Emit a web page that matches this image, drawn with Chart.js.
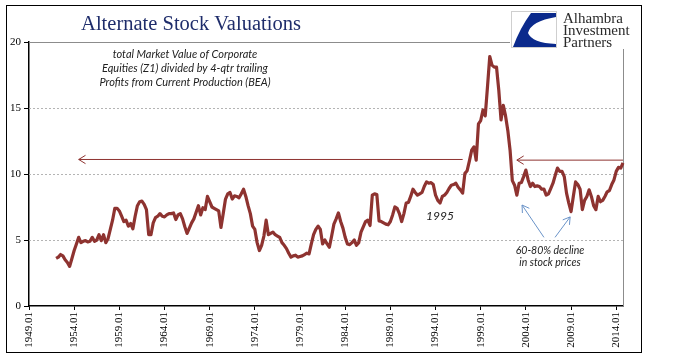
<!DOCTYPE html>
<html>
<head>
<meta charset="utf-8">
<script src="https://cdn.jsdelivr.net/npm/chart.js@4.4.1/dist/chart.umd.min.js"></script>
<style>
  html, body { margin: 0; padding: 0; background: #fff; }
  #wrap { position: relative; width: 675px; height: 358px; }
</style>
</head>
<body>
<div id="wrap"><canvas id="valChart" width="675" height="358"></canvas></div>
<script>
// Categories: quarters 1949.01 .. 2014.04
const startYear = 1949;
const endYear = 2014;
const quarterCodes = ['01', '02', '03', '04'];
const tickLabels = ['1949.01', '1954.01', '1959.01', '1964.01', '1969.01', '1974.01', '1979.01',
  '1984.01', '1989.01', '1994.01', '1999.01', '2004.01', '2009.01', '2014.01'];
const yTicks = [0, 5, 10, 15, 20];
const firstDataLabel = '1952.01';

// Market value of equities / trailing profits, one row per year (Q1..Q4), from 1952
const ratioValues = [
  3.6, 3.7, 3.9, 3.8,      // 1952
  3.5, 3.3, 3.0, 3.6,      // 1953
  4.2, 4.7, 5.2, 4.8,      // 1954
  4.9, 4.95, 4.85, 4.9,    // 1955
  5.2, 4.9, 5.0, 5.4,      // 1956
  4.95, 5.4, 4.8, 5.1,     // 1957
  5.8, 6.5, 7.4, 7.4,      // 1958
  7.2, 6.8, 6.4, 6.5,      // 1959
  6.05, 6.25, 5.85, 6.8,   // 1960
  7.6, 7.9, 7.95, 7.7,     // 1961
  7.3, 5.4, 5.4, 6.3,      // 1962
  6.7, 6.8, 7.0, 6.8,      // 1963
  6.75, 6.9, 7.0, 7.0,     // 1964
  7.05, 6.55, 6.9, 7.0,    // 1965
  6.6, 6.0, 5.5, 5.9,      // 1966
  6.3, 6.6, 7.1, 7.6,      // 1967
  6.9, 7.45, 7.3, 8.3,     // 1968
  7.9, 7.5, 7.4, 7.3,      // 1969
  7.2, 5.95, 7.0, 8.1,     // 1970
  8.5, 8.6, 8.1, 8.35,     // 1971
  8.3, 8.2, 8.5, 8.85,     // 1972
  8.3, 7.6, 7.0, 6.05,     // 1973
  5.8, 4.8, 4.2, 4.6,      // 1974
  5.3, 6.5, 5.4, 5.5,      // 1975
  5.6, 5.4, 5.3, 5.2,      // 1976
  4.8, 4.6, 4.35, 4.0,     // 1977
  3.7, 3.8, 3.85, 3.7,     // 1978
  3.75, 3.8, 3.9, 4.0,     // 1979
  3.95, 4.7, 5.4, 5.8,     // 1980
  6.05, 5.8, 4.7, 5.0,     // 1981
  4.7, 4.45, 5.3, 6.2,     // 1982
  6.6, 7.05, 6.4, 5.9,     // 1983
  5.2, 4.7, 4.65, 4.8,     // 1984
  5.0, 4.6, 4.8, 5.6,      // 1985
  6.0, 6.4, 6.5, 6.1,      // 1986
  8.4, 8.5, 8.45, 6.45,    // 1987
  6.4, 6.3, 6.2, 6.15,     // 1988
  6.4, 6.9, 7.5, 7.4,      // 1989
  7.0, 6.4, 7.0, 7.8,      // 1990
  7.85, 8.3, 8.85, 8.6,    // 1991
  8.4, 8.5, 8.6, 9.05,     // 1992
  9.4, 9.3, 9.35, 9.2,     // 1993
  8.4, 8.0, 7.8, 8.3,      // 1994
  8.4, 8.6, 8.9, 9.15,     // 1995
  9.2, 9.3, 9.0, 8.8,      // 1996
  8.55, 10.05, 10.25, 11.0, // 1997
  11.8, 12.05, 11.05, 13.8, // 1998
  14.05, 14.85, 14.4, 16.6, // 1999
  18.9, 18.25, 18.1, 18.1,  // 2000
  16.35, 14.1, 15.2, 14.4,  // 2001
  13.3, 11.8, 9.5, 9.15,    // 2002
  8.4, 9.3, 9.35, 9.8,      // 2003
  10.3, 9.55, 9.05, 9.3,    // 2004
  9.05, 9.1, 9.05, 8.85,    // 2005
  8.85, 8.4, 8.5, 8.9,      // 2006
  9.3, 9.9, 10.45, 10.2,    // 2007
  10.2, 9.8, 8.55, 7.8,     // 2008
  7.15, 8.3, 9.4, 9.2,      // 2009
  8.85, 7.3, 8.0, 8.3,      // 2010
  8.8, 8.3, 7.6, 7.3,       // 2011
  8.3, 7.9, 8.0, 8.3,       // 2012
  8.65, 8.75, 9.2, 9.55,    // 2013
  10.2, 10.5, 10.45, 10.85  // 2014
];

const labels = [];
for (let y = startYear; y <= endYear; y++) {
  quarterCodes.forEach(q => labels.push(y + '.' + q));
}
const lead = labels.indexOf(firstDataLabel);
const seriesData = labels.map((l, i) => (i < lead ? null : ratioValues[i - lead]));

const lineColor = '#8E3330';

// annotations in data space (category index, value)
const redArrows = [
  { from: 192, to: 22, y: 11.1 },
  { from: 263, to: 216, y: 11.05 }
];
const blueArrows = [
  { x0: 228, y0: 5.2, x1: 218.3, y1: 7.65 },
  { x0: 232.9, y0: 5.2, x1: 239.6, y1: 6.75 }
];

function drawArrow(ctx, x0, y0, x1, y1, color) {
  const ang = Math.atan2(y1 - y0, x1 - x0);
  const len = 8, spread = 0.55;
  ctx.strokeStyle = color;
  ctx.lineWidth = 1;
  ctx.beginPath();
  ctx.moveTo(x0, y0);
  ctx.lineTo(x1, y1);
  ctx.moveTo(x1 - len * Math.cos(ang - spread), y1 - len * Math.sin(ang - spread));
  ctx.lineTo(x1, y1);
  ctx.lineTo(x1 - len * Math.cos(ang + spread), y1 - len * Math.sin(ang + spread));
  ctx.stroke();
}

const decorPlugin = {
  id: 'decor',
  beforeDatasetsDraw(chart) {
    const { ctx, chartArea: a, scales: { y } } = chart;
    ctx.save();
    ctx.lineWidth = 1;
    ctx.strokeStyle = '#B4B4B4';
    ctx.setLineDash([2, 2]);
    yTicks.slice(1, -1).forEach(v => {
      const py = Math.round(y.getPixelForValue(v)) + 0.5;
      ctx.beginPath();
      ctx.moveTo(a.left, py);
      ctx.lineTo(a.right, py);
      ctx.stroke();
    });
    ctx.setLineDash([]);
    ctx.strokeStyle = '#8C8C8C';
    const top = Math.round(y.getPixelForValue(20)) + 0.5;
    ctx.beginPath();
    ctx.moveTo(a.left, top);
    ctx.lineTo(a.right, top);
    ctx.moveTo(a.right + 0.5, top);
    ctx.lineTo(a.right + 0.5, a.bottom);
    ctx.stroke();
    ctx.restore();
  },
  afterDatasetsDraw(chart) {
    const { ctx, scales: { x, y } } = chart;
    ctx.save();
    redArrows.forEach(r => {
      const py = y.getPixelForValue(r.y);
      drawArrow(ctx, x.getPixelForValue(r.from), py, x.getPixelForValue(r.to), py, lineColor);
    });
    blueArrows.forEach(b => {
      drawArrow(ctx, x.getPixelForValue(b.x0), y.getPixelForValue(b.y0),
        x.getPixelForValue(b.x1), y.getPixelForValue(b.y1), '#6A93C8');
    });

    ctx.fillStyle = '#222';
    ctx.textAlign = 'center';
    ctx.textBaseline = 'middle';
    ctx.font = 'italic 12px Lato';
    ctx.fillText('1995', 440, 216);
    ctx.font = 'italic 10.5px Lato';
    ctx.fillText('60-80% decline', 550, 251);
    ctx.fillText('in stock prices', 550, 263);
    ctx.font = 'italic 11px Lato';
    ctx.fillText('total Market Value of Corporate', 185, 54);
    ctx.fillText('Equities (Z1) divided by 4-qtr trailing', 185, 68);
    ctx.fillText('Profits from Current Production (BEA)', 185, 82);
    ctx.restore();
  },
  afterDraw(chart) {
    const { ctx } = chart;
    ctx.save();
    // title
    ctx.fillStyle = '#1F2D6B';
    ctx.font = '20.5px "Liberation Serif"';
    ctx.textAlign = 'center';
    ctx.textBaseline = 'alphabetic';
    ctx.fillText('Alternate Stock Valuations', 191, 30);

    // logo
    ctx.fillStyle = '#fff';
    ctx.fillRect(510, 8, 128, 41);
    ctx.strokeStyle = '#CFCFCF';
    ctx.lineWidth = 1;
    ctx.strokeRect(511.5, 11.5, 45, 36);
    ctx.fillStyle = '#0B2A8C';
    ctx.beginPath();
    ctx.moveTo(531, 13);
    ctx.lineTo(556, 13);
    ctx.lineTo(556, 17);
    ctx.quadraticCurveTo(531, 21, 528, 33);
    ctx.quadraticCurveTo(532, 43, 556, 44);
    ctx.lineTo(556, 47);
    ctx.lineTo(513, 47);
    ctx.quadraticCurveTo(520, 28, 531, 13);
    ctx.closePath();
    ctx.fill();
    ctx.fillStyle = '#2A2A2A';
    ctx.font = '15px "Liberation Serif"';
    ctx.textAlign = 'left';
    ctx.fillText('Alhambra', 563, 23);
    ctx.fillText('Investment', 563, 35);
    ctx.fillText('Partners', 563, 47);

    // outer frame
    ctx.strokeStyle = '#000';
    ctx.strokeRect(6.5, 5.5, 635, 347);
    ctx.restore();
  }
};

new Chart(document.getElementById('valChart'), {
  type: 'line',
  data: {
    labels: labels,
    datasets: [{
      label: 'Market Value / Profits',
      data: seriesData,
      borderColor: lineColor,
      borderWidth: 3.2,
      pointRadius: 0,
      tension: 0,
      borderJoinStyle: 'round',
      fill: false
    }]
  },
  options: {
    responsive: false,
    animation: false,
    layout: { padding: { left: 0, right: 52, top: 42, bottom: 4 } },
    plugins: {
      legend: { display: false },
      tooltip: { enabled: false }
    },
    scales: {
      x: {
        offset: false,
        afterFit(scale) { scale.height = 48; },
        border: { display: true, color: '#000', width: 1.5 },
        grid: {
          drawOnChartArea: false,
          drawTicks: true,
          tickLength: 4,
          color: ctx => (tickLabels.includes(labels[ctx.index]) ? '#000' : 'rgba(0,0,0,0)')
        },
        ticks: {
          autoSkip: false,
          minRotation: 90,
          maxRotation: 90,
          padding: 2,
          color: '#000',
          font: { family: 'Liberation Serif', size: 11 },
          callback: (v, i) => (tickLabels.includes(labels[i]) ? labels[i] : '')
        }
      },
      y: {
        min: 0,
        max: 20,
        afterFit(scale) { scale.width = 29; },
        border: { display: true, color: '#000', width: 1.5 },
        grid: { drawOnChartArea: false, drawTicks: true, tickLength: 5, color: '#000' },
        ticks: {
          stepSize: 5,
          padding: 3,
          color: '#000',
          font: { family: 'Liberation Serif', size: 11 }
        }
      }
    }
  },
  plugins: [decorPlugin]
});
</script>
</body>
</html>
